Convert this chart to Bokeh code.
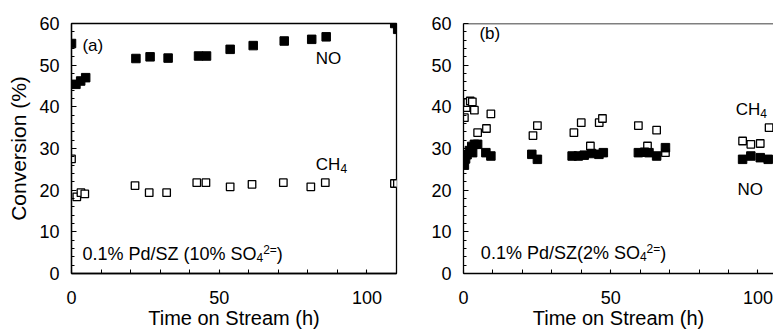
from bokeh.plotting import figure
from bokeh.layouts import row
from bokeh.models import Label, Span, FixedTicker, Range1d
from bokeh.embed import file_html
from bokeh.resources import INLINE

FONT = "Liberation Sans"

# ---- data ----
a_no_t = [0.0, 1.5, 3.1, 4.8, 21.8, 26.6, 32.7, 43.0, 45.7, 53.7, 61.5, 72.0, 81.3, 86.2, 109.4, 110.4]
a_no_y = [55.2, 45.4, 46.2, 47.0, 51.6, 52.0, 51.7, 52.2, 52.2, 53.8, 54.7, 55.8, 56.2, 56.8, 60.0, 58.6]
a_ch4_t = [0.0, 1.8, 3.2, 4.5, 21.5, 26.3, 32.2, 42.4, 45.5, 53.7, 61.1, 71.7, 81.0, 85.9, 109.3, 110.3]
a_ch4_y = [27.5, 18.4, 19.4, 19.1, 21.1, 19.4, 19.4, 21.8, 21.8, 20.8, 21.4, 21.8, 20.8, 21.8, 21.6, 21.6]

b_no_t = [0.3, 0.7, 1.2, 2.0, 2.8, 3.7, 4.8, 3.1, 7.6, 9.3, 23.2, 25.1, 36.9, 39.0, 41.0, 43.5, 46.0, 47.5,
          59.4, 61.5, 63.0, 65.6, 68.6, 94.8, 97.6, 100.8, 103.5]
b_no_y = [26.0, 27.5, 28.5, 29.5, 30.5, 31.0, 31.0, 29.0, 29.0, 28.2, 28.6, 27.4, 28.2, 28.2, 28.4, 28.8, 28.6, 29.0,
          29.0, 29.1, 29.0, 28.2, 30.2, 27.4, 28.2, 27.8, 27.4]
b_ch4_t = [0.3, 0.9, 1.45, 2.3, 3.0, 3.7, 4.8, 7.8, 9.3, 23.6, 25.1, 37.5, 40.0, 43.1, 46.1, 47.2,
           59.4, 62.5, 65.6, 68.6, 94.8, 97.6, 100.8, 103.8]
b_ch4_y = [37.4, 39.8, 41.0, 41.4, 41.2, 39.2, 33.8, 34.8, 38.3, 33.1, 35.5, 33.8, 36.2, 30.6, 36.2, 37.2,
           35.5, 30.6, 34.4, 29.0, 31.8, 31.0, 31.2, 35.0]

x_major = [0, 50, 100]
x_minor = [10, 20, 30, 40, 60, 70, 80, 90, 110]
y_major = [0, 10, 20, 30, 40, 50, 60]
y_minor = [2, 4, 6, 8, 12, 14, 16, 18, 22, 24, 26, 28, 32, 34, 36, 38, 42, 44, 46, 48, 52, 54, 56, 58]

x_title = "Time on Stream (h)"
y_title = "Conversion (%)"

# Arial-like advance widths (per 1000 em) for placing sub/superscripts
W = {" ": 278, ".": 278, "%": 889, "/": 278, "(": 333, ")": 333, "=": 584,
     "P": 667, "d": 556, "S": 667, "Z": 611, "O": 778, "C": 722, "H": 722, "N": 722}


def tw(s, size):
    return sum(W.get(c, 556) for c in s) * size / 1000.0


def rich(p, x, y, parts, lift=5):
    """parts: list of (text, size, dy_px)"""
    off = 0.0
    for txt, size, dy in parts:
        p.add_layout(Label(x=x, y=y, x_offset=off, y_offset=dy + lift, text=txt,
                           text_font=FONT, text_font_size=f"{size}px",
                           text_align="left", text_baseline="alphabetic",
                           text_color="black"))
        off += tw(txt, size)


def make(width, xmax, bl, br, ylabel):
    p = figure(width=width, height=331, x_range=Range1d(0, xmax), y_range=Range1d(0, 60),
               output_backend="svg", toolbar_location=None,
               min_border_left=bl, min_border_right=br, min_border_top=23, min_border_bottom=58)
    p.grid.visible = False
    p.background_fill_color = "white"
    p.border_fill_color = "white"
    for ax in (p.xaxis[0], p.yaxis[0]):
        ax.axis_line_color = "black"
        ax.axis_line_width = 1.3
        ax.major_tick_line_color = "black"
        ax.minor_tick_line_color = "black"
        ax.major_tick_line_width = 1.1
        ax.minor_tick_line_width = 1.0
        ax.major_tick_out = 0
        ax.minor_tick_out = 0
        ax.major_label_text_font = FONT
        ax.major_label_text_font_size = "18px"
        ax.major_label_text_color = "black"
        ax.axis_label_text_font = FONT
        ax.axis_label_text_font_style = "normal"
        ax.axis_label_text_color = "black"
    xa = p.xaxis[0]
    xa.ticker = FixedTicker(ticks=x_major, minor_ticks=x_minor)
    xa.major_tick_in = 4
    xa.minor_tick_in = 4
    xa.major_label_standoff = 17
    xa.axis_label = x_title
    xa.axis_label_text_font_size = "20px"
    xa.axis_label_standoff = 0
    ya = p.yaxis[0]
    ya.ticker = FixedTicker(ticks=y_major, minor_ticks=y_minor)
    ya.major_tick_in = 5
    ya.minor_tick_in = 3
    ya.major_label_standoff = 12
    if ylabel:
        ya.axis_label = y_title
        ya.axis_label_text_font_size = "21px"
        ya.axis_label_standoff = 6
    return p


# ---------- panel (a) ----------
pa = make(428, 110, 71, 32, True)
pa.outline_line_color = "black"
pa.outline_line_width = 1.3
pa.scatter(a_ch4_t, a_ch4_y, marker="square", size=7.5, fill_color="white",
           line_color="black", line_width=1.3)
pa.scatter(a_no_t, a_no_y, marker="square", size=8.5, fill_color="black", line_color="black")
rich(pa, 3.7, 54.1, [("(a)", 17, 0)], lift=3)
rich(pa, 82.7, 50.4, [("NO", 17, 0)])
rich(pa, 82.7, 25.0, [("CH", 17, 0), ("4", 12, -4)])
rich(pa, 3.7, 3.5, [("0.1% Pd/SZ (10% SO", 18, 0), ("4", 12, -4), ("2=", 12, 4), (")", 18, 0)])

# ---------- panel (b) ----------
pb = make(345, 105.3, 33, 0, False)
pb.outline_line_color = None
pb.add_layout(Span(location=60, dimension="width", line_color="black", line_width=1.3))
pb.scatter(b_ch4_t, b_ch4_y, marker="square", size=7.5, fill_color="white",
           line_color="black", line_width=1.3)
pb.scatter(b_no_t, b_no_y, marker="square", size=8.5, fill_color="black", line_color="black")
rich(pb, 5.4, 56.3, [("(b)", 17, 0)], lift=5)
rich(pb, 92.5, 38.2, [("CH", 17, 0), ("4", 12, -4)])
rich(pb, 93.1, 19.0, [("NO", 17, 0)])
rich(pb, 5.9, 3.8, [("0.1% Pd/SZ(2% SO", 18, 0), ("4", 12, -4), ("2=", 12, 4), (")", 18, 0)])

layout = row(pa, pb)
open("out.html", "w").write(file_html(layout, INLINE))
